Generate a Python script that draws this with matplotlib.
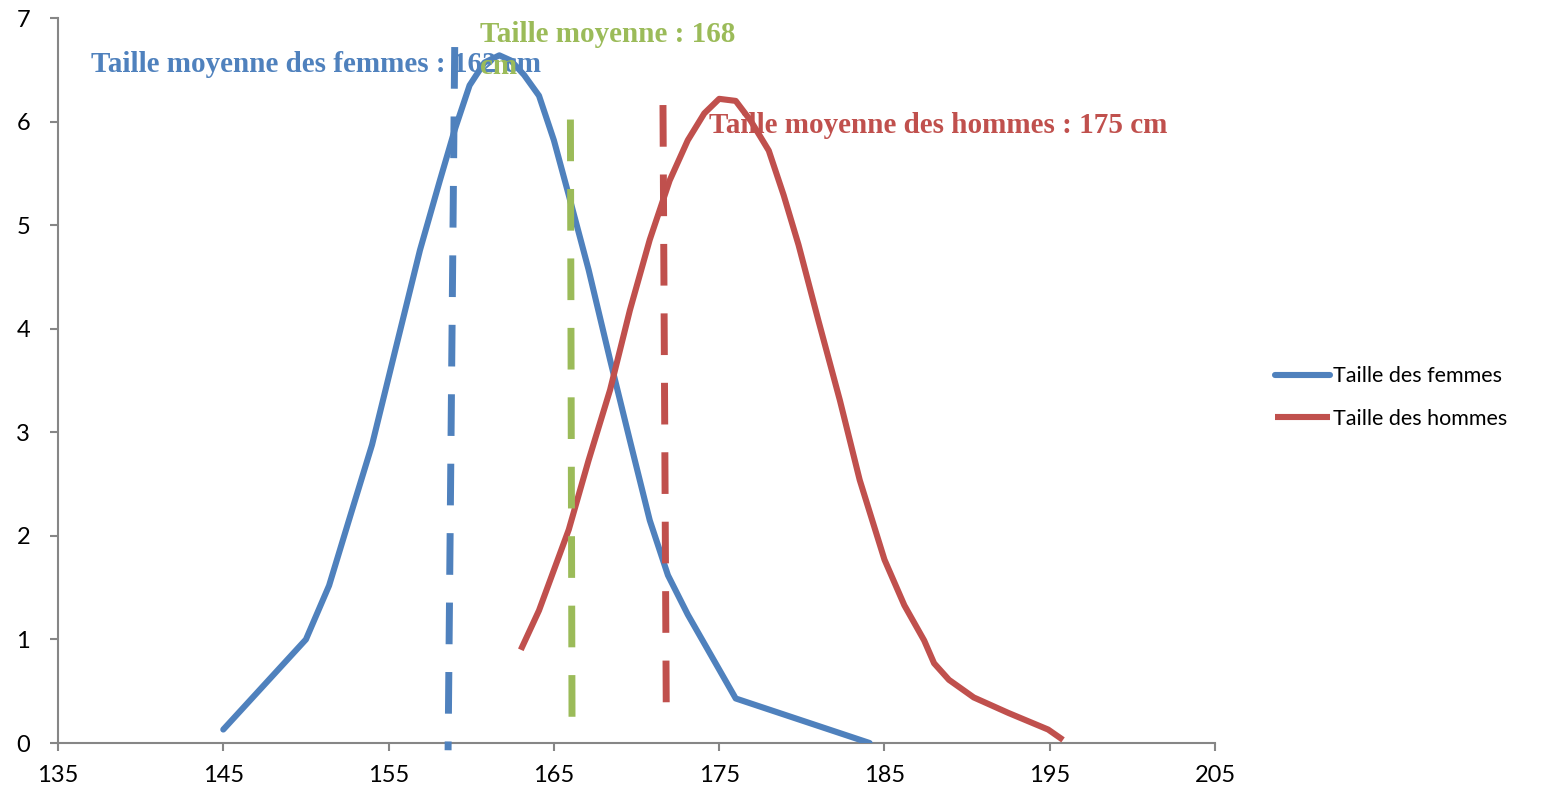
import matplotlib
matplotlib.use("Agg")
import matplotlib.pyplot as plt

# Data
femmes_x = [145.0, 150.0, 151.4, 152.6, 154.0, 155.4, 156.9, 158.1, 159.0, 159.9, 160.8,
            161.7, 162.4, 163.2, 164.1, 165.0, 165.9, 167.1, 168.4, 169.6, 170.8, 171.9,
            173.1, 176.0, 184.1]
femmes_y = [0.13, 1.0, 1.52, 2.15, 2.88, 3.79, 4.76, 5.43, 5.92, 6.35, 6.57,
            6.64, 6.59, 6.45, 6.25, 5.82, 5.29, 4.57, 3.70, 2.92, 2.15, 1.62,
            1.24, 0.43, 0.0]
hommes_x = [163.0, 164.1, 165.9, 167.1, 168.4, 169.6, 170.8, 172.0, 173.1, 174.1, 175.0,
            176.0, 176.9, 178.0, 178.9, 179.8, 181.0, 182.3, 183.5, 185.0, 186.2, 187.4,
            188.0, 188.9, 190.4, 192.5, 194.9, 195.8]
hommes_y = [0.9, 1.28, 2.06, 2.73, 3.41, 4.18, 4.86, 5.43, 5.82, 6.08, 6.22,
            6.20, 6.01, 5.72, 5.29, 4.81, 4.08, 3.31, 2.54, 1.77, 1.33, 0.99,
            0.77, 0.61, 0.44, 0.29, 0.13, 0.03]

mean_f_x = [159.0, 158.6]
mean_f_y = [6.72, -0.07]
mean_all_x = [166.0, 166.1]
mean_all_y = [6.02, 0.03]
mean_h_x = [171.6, 171.8]
mean_h_y = [6.16, 0.27]

xticks = [135, 145, 155, 165, 175, 185, 195, 205]
yticks = [0, 1, 2, 3, 4, 5, 6, 7]

BLUE = "#4F81BD"
RED = "#C0504D"
GREEN = "#9BBB59"
GRAY = "#868686"

fig = plt.figure(figsize=(15.42, 7.85), dpi=100)
ax = fig.add_axes([0.0376, 0.0535, 0.788 - 0.0376, 0.977 - 0.0535])

ax.plot(femmes_x, femmes_y, color=BLUE, lw=4.4, solid_capstyle="round",
        solid_joinstyle="round", label="Taille des femmes", zorder=3)
ax.plot(hommes_x, hommes_y, color=RED, lw=4.4, solid_capstyle="butt",
        solid_joinstyle="round", label="Taille des hommes", zorder=3)

ax.plot(mean_f_x, mean_f_y, color=BLUE, lw=5, dashes=(6, 4), zorder=4, clip_on=False)
ax.plot(mean_all_x, mean_all_y, color=GREEN, lw=5, dashes=(6, 4), zorder=4, clip_on=False)
ax.plot(mean_h_x, mean_h_y, color=RED, lw=5, dashes=(6, 4), zorder=4, clip_on=False)

ax.set_xlim(135, 205)
ax.set_ylim(0, 7)
ax.set_xticks(xticks)
ax.set_yticks(yticks)
ax.set_xticklabels([str(v) for v in xticks])
ax.set_yticklabels([str(v) for v in yticks])

for s in ["top", "right"]:
    ax.spines[s].set_visible(False)
for s in ["left", "bottom"]:
    ax.spines[s].set_color(GRAY)
    ax.spines[s].set_linewidth(1.5)
ax.tick_params(axis="both", colors=GRAY, length=6, width=1.5, labelcolor="black",
               labelsize=17)
ax.tick_params(axis="x", pad=10)
ax.tick_params(axis="y", pad=14)
for lbl in ax.get_xticklabels() + ax.get_yticklabels():
    lbl.set_family(["Lato", "DejaVu Sans"])

serif = ["Liberation Serif", "DejaVu Serif"]
ax.text(137.0, 6.55, "Taille moyenne des femmes : 162 cm", color=BLUE, fontsize=21,
        fontweight="bold", family=serif, va="center", ha="left", zorder=5)
ax.text(160.5, 6.84, "Taille moyenne : 168", color=GREEN, fontsize=21,
        fontweight="bold", family=serif, va="center", ha="left", zorder=6)
ax.text(160.5, 6.53, "cm", color=GREEN, fontsize=21,
        fontweight="bold", family=serif, va="center", ha="left", zorder=6)
ax.text(174.4, 5.96, "Taille moyenne des hommes : 175 cm", color=RED, fontsize=21,
        fontweight="bold", family=serif, va="center", ha="left", zorder=5)

leg = ax.legend(loc="center left", bbox_to_anchor=(1.052, 0.4766), frameon=False,
                prop={"family": ["Lato", "DejaVu Sans"], "size": 15.5},
                handlelength=2.55, handletextpad=0.12, labelspacing=1.05,
                borderaxespad=0, borderpad=0)

fig.savefig("out.png", dpi=100)
